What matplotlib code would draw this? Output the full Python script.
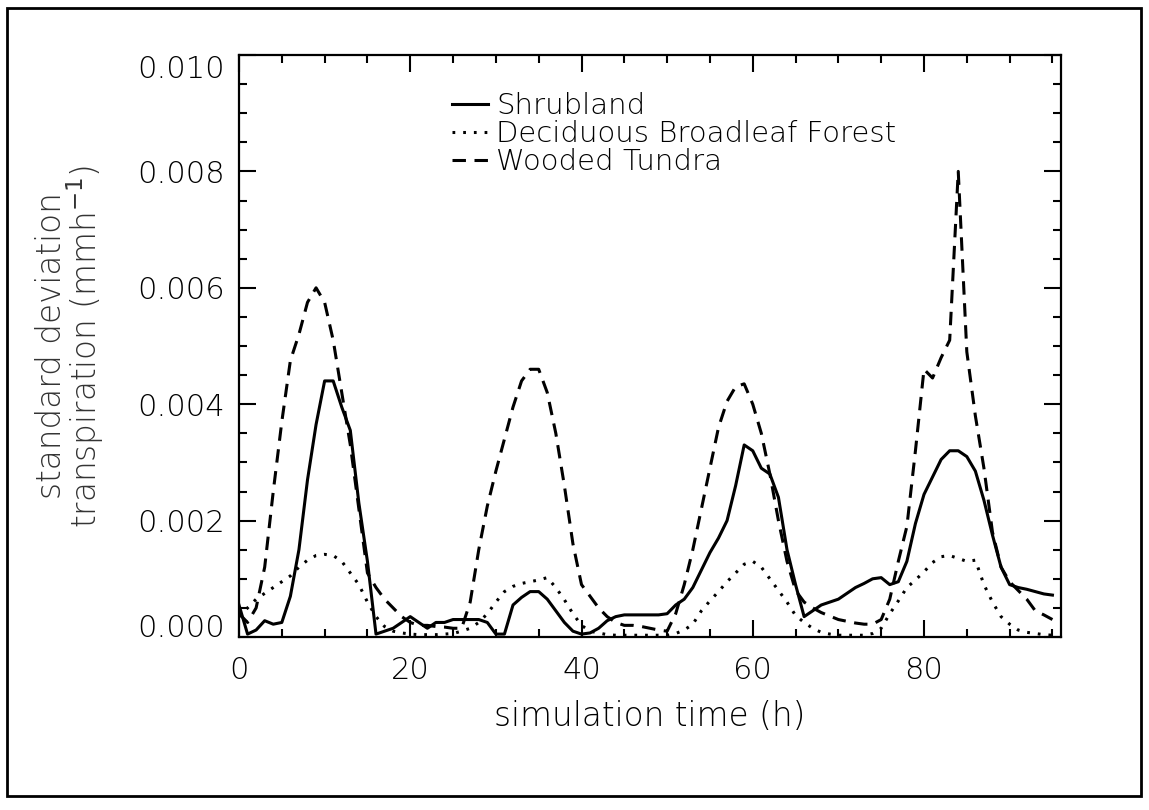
import numpy as np
import matplotlib
matplotlib.use("Agg")
import matplotlib.pyplot as plt
from matplotlib.patches import Rectangle
from matplotlib.ticker import MultipleLocator

# ---------------------------------------------------------------------------
#  data (units of 1e-3 mm/h, hourly 0..95)
# ---------------------------------------------------------------------------
hours = np.arange(96)

shrubland = [
    0.55, 0.05, 0.12, 0.28, 0.22, 0.25, 0.70, 1.50, 2.70, 3.65,
    4.40, 4.40, 3.95, 3.55, 2.30, 1.30, 0.05, 0.10, 0.15, 0.25,
    0.35, 0.25, 0.15, 0.25, 0.25, 0.30, 0.30, 0.30, 0.30, 0.25,
    0.05, 0.05, 0.55, 0.68, 0.78, 0.78, 0.65, 0.45, 0.25, 0.10,
    0.05, 0.07, 0.15, 0.28, 0.35, 0.38, 0.38, 0.38, 0.38, 0.38,
    0.40, 0.55, 0.65, 0.85, 1.15, 1.45, 1.70, 2.00, 2.60, 3.30,
    3.20, 2.90, 2.80, 2.40, 1.50, 0.90, 0.35, 0.45, 0.55, 0.60,
    0.65, 0.75, 0.85, 0.92, 1.00, 1.02, 0.90, 0.95, 1.30, 1.95,
    2.45, 2.75, 3.05, 3.20, 3.20, 3.10, 2.85, 2.35, 1.75, 1.20,
    0.90, 0.85, 0.82, 0.78, 0.74, 0.72,
]

deciduous = [
    0.35, 0.50, 0.65, 0.75, 0.85, 0.95, 1.05, 1.20, 1.32, 1.40,
    1.42, 1.40, 1.30, 1.10, 0.90, 0.60, 0.35, 0.18, 0.10, 0.07,
    0.05, 0.04, 0.04, 0.04, 0.05, 0.06, 0.10, 0.15, 0.25, 0.40,
    0.60, 0.78, 0.87, 0.92, 0.95, 0.98, 1.02, 0.85, 0.64, 0.40,
    0.20, 0.10, 0.07, 0.04, 0.03, 0.03, 0.03, 0.03, 0.03, 0.03,
    0.03, 0.06, 0.12, 0.22, 0.45, 0.62, 0.78, 0.95, 1.10, 1.25,
    1.30, 1.20, 1.00, 0.80, 0.60, 0.37, 0.25, 0.15, 0.08, 0.05,
    0.03, 0.03, 0.03, 0.03, 0.06, 0.15, 0.40, 0.62, 0.85, 0.98,
    1.12, 1.28, 1.38, 1.40, 1.35, 1.30, 1.32, 0.90, 0.60, 0.35,
    0.22, 0.12, 0.08, 0.06, 0.04, 0.03,
]

tundra = [
    0.40, 0.25, 0.50, 1.20, 2.50, 3.70, 4.75, 5.20, 5.75, 6.00,
    5.75, 5.10, 4.20, 3.30, 2.20, 1.10, 0.85, 0.65, 0.50, 0.35,
    0.25, 0.20, 0.20, 0.18, 0.17, 0.15, 0.15, 0.60, 1.50, 2.25,
    2.85, 3.40, 3.95, 4.40, 4.60, 4.60, 4.20, 3.50, 2.60, 1.60,
    0.90, 0.70, 0.50, 0.35, 0.25, 0.20, 0.20, 0.18, 0.15, 0.12,
    0.10, 0.40, 0.90, 1.50, 2.20, 2.90, 3.60, 4.05, 4.30, 4.35,
    4.00, 3.50, 2.80, 2.00, 1.30, 0.80, 0.60, 0.50, 0.42, 0.36,
    0.30, 0.27, 0.24, 0.22, 0.22, 0.30, 0.65, 1.30, 1.90, 3.20,
    4.60, 4.45, 4.80, 5.10, 8.00, 4.90, 3.80, 2.90, 1.80, 1.20,
    0.95, 0.80, 0.65, 0.45, 0.38, 0.30,
]

labels = ["Shrubland", "Deciduous Broadleaf Forest", "Wooded Tundra"]
y_ticks = [0.000, 0.002, 0.004, 0.006, 0.008, 0.010]
y_ticklabels = ["0.000", "0.002", "0.004", "0.006", "0.008", "0.010"]

# ---------------------------------------------------------------------------
#  plot
# ---------------------------------------------------------------------------
text_font = ["DejaVu Sans"]
tick_font = dict(family=text_font, weight="light", size=22)

fig = plt.figure(figsize=(11.49, 8.10), dpi=100)
ax = fig.add_axes([239 / 1149, 1 - 637 / 810, 822 / 1149, 582 / 810])

scale = 1e-3
lw = 2.2
ax.plot(hours, np.array(shrubland) * scale, color="black", lw=lw,
        label=labels[0])
ax.plot(hours, np.array(deciduous) * scale, color="black", lw=lw,
        dashes=(0.9, 2.6), label=labels[1])
ax.plot(hours, np.array(tundra) * scale, color="black", lw=lw,
        dashes=(4.4, 2.8), label=labels[2])

ax.set_xlim(0, 96)
ax.set_ylim(0, 0.010)

ax.xaxis.set_major_locator(MultipleLocator(20))
ax.xaxis.set_minor_locator(MultipleLocator(5))
ax.set_yticks(y_ticks, y_ticklabels)
ax.yaxis.set_minor_locator(MultipleLocator(0.0005))

ax.tick_params(which="both", direction="in", top=True, right=True,
               width=1.5, colors="black")
ax.tick_params(which="major", length=12, pad=10)
ax.tick_params(which="minor", length=6)
ax.tick_params(axis="x", which="major", pad=14)
for lab in ax.get_xticklabels() + ax.get_yticklabels():
    lab.set_fontproperties(tick_font)
# IDL puts the end labels inside the axis range
ylabs = ax.get_yticklabels()
ylabs[0].set_va("baseline")
ylabs[-1].set_va("top")

for s in ax.spines.values():
    s.set_linewidth(1.6)

ax.set_xlabel("simulation time (h)", fontsize=23.5, family=text_font,
              weight="light", va="center")
ax.xaxis.set_label_coords(0.5, -0.137)
ax.set_ylabel("standard deviation\ntranspiration (mmh$^{-1}$)",
              fontsize=23.5, family=text_font, weight="light", va="center",
              ha="center", linespacing=0.9, color="#333333")
ax.yaxis.set_label_coords(-0.205, 0.5)

ax.legend(loc="upper left", bbox_to_anchor=(0.259, 0.936), frameon=False,
          prop=dict(family=text_font, size=21, weight="light"),
          handlelength=1.25, handletextpad=0.26, labelspacing=0.0,
          borderpad=0, borderaxespad=0)

# outer frame round the whole picture
fig.patches.append(Rectangle((7 / 1149, 1 - 796 / 810), 1134 / 1149,
                             788 / 810, transform=fig.transFigure,
                             fill=False, lw=2, ec="black"))

fig.savefig("out.png", dpi=100)
